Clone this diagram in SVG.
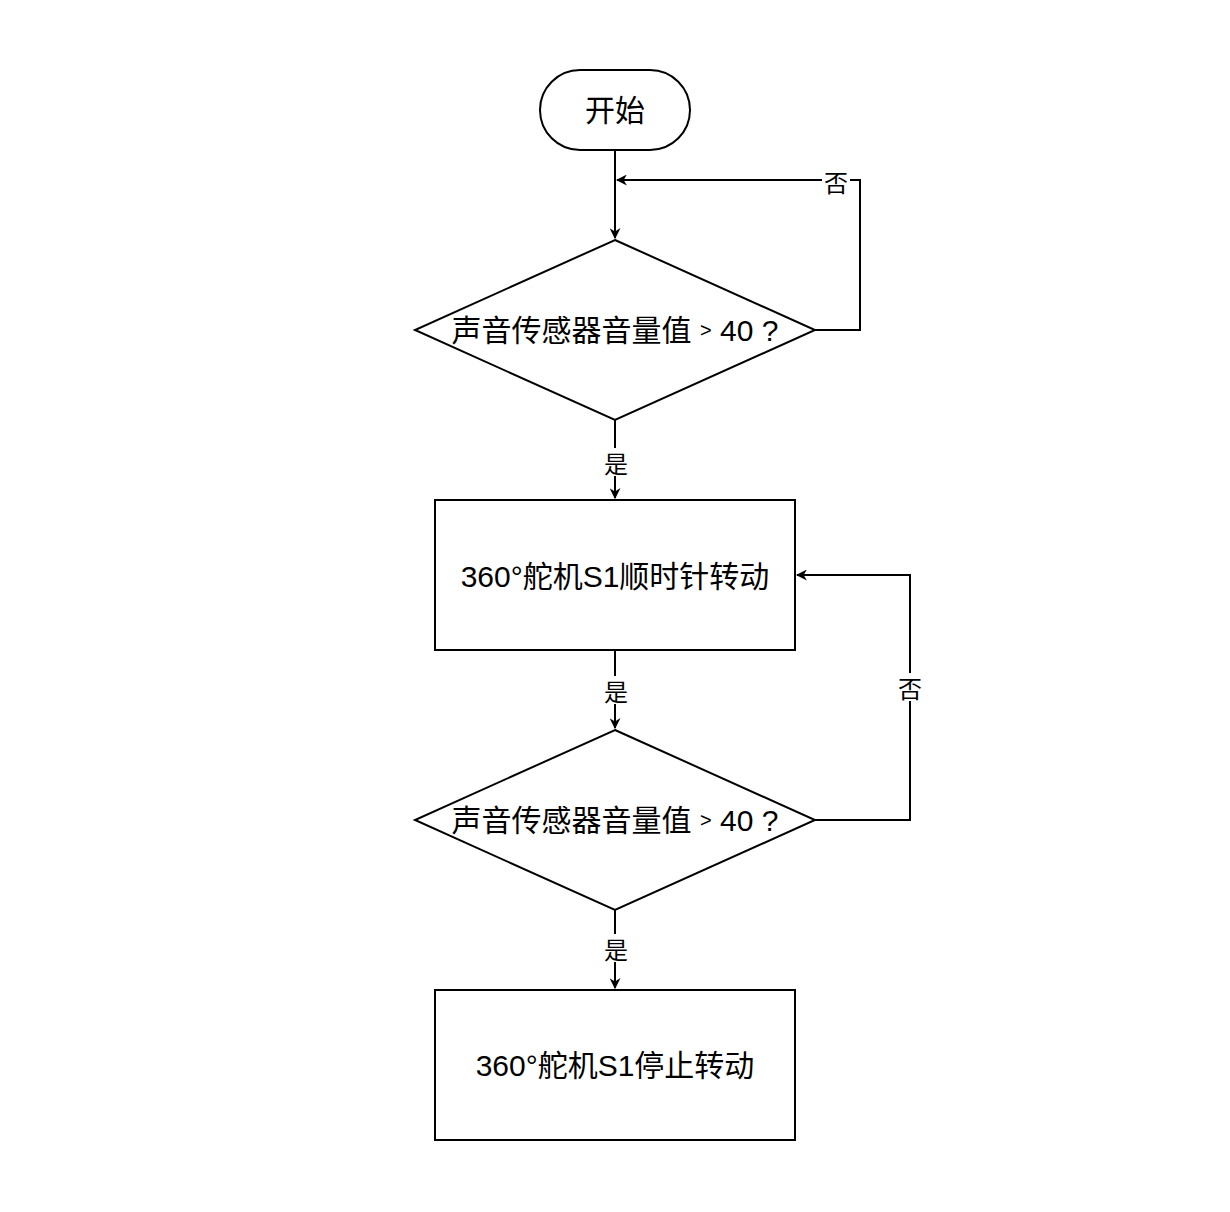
<svg xmlns="http://www.w3.org/2000/svg" width="1230" height="1212" viewBox="0 0 1230 1212">
<style>
.shape{fill:#fff;stroke:#000;stroke-width:2}
.txt{font-family:"Liberation Sans","Noto Sans CJK SC",sans-serif;font-size:30px;fill:#000;text-anchor:middle;dominant-baseline:central}
.lbl{font-family:"Noto Sans CJK SC",sans-serif;font-size:24px;fill:#000;text-anchor:middle;dominant-baseline:central}
.edge{fill:none;stroke:#000;stroke-width:2}
</style>
<defs>
<marker id="arr" viewBox="0 0 10 10" refX="9" refY="5" markerWidth="11" markerHeight="11" markerUnits="userSpaceOnUse" orient="auto">
<path d="M0,0 L10,5 L0,10 L3,5 z" fill="#000"/>
</marker>
</defs>
<rect width="1230" height="1212" fill="#fff"/>
<g id="connectors">
<path class="edge" d="M615,150 L615,238" marker-end="url(#arr)"/>
<path class="edge" d="M815,330 L860,330 L860,180 L617,180" marker-end="url(#arr)"/>
<path class="edge" d="M615,420 L615,498" marker-end="url(#arr)"/>
<path class="edge" d="M615,650 L615,728" marker-end="url(#arr)"/>
<path class="edge" d="M815,820 L910,820 L910,575 L797,575" marker-end="url(#arr)"/>
<path class="edge" d="M615,910 L615,988" marker-end="url(#arr)"/>
<rect x="822" y="167" width="28" height="28" fill="#fff"/>
<text class="lbl" x="836" y="181">否</text>
<rect x="602" y="448" width="28" height="28" fill="#fff"/>
<text class="lbl" x="616" y="462">是</text>
<rect x="602" y="676" width="28" height="28" fill="#fff"/>
<text class="lbl" x="616" y="690">是</text>
<rect x="896" y="673" width="28" height="28" fill="#fff"/>
<text class="lbl" x="910" y="687">否</text>
<rect x="602" y="934" width="28" height="28" fill="#fff"/>
<text class="lbl" x="616" y="948">是</text>
</g>
<g id="start">
<rect class="shape" x="540" y="70" width="150" height="80" rx="40" ry="40"/>
<text class="txt" x="615" y="110">开始</text>
</g>
<g id="decision1">
<polygon class="shape" points="615,240 815,330 615,420 415,330"/>
<text class="txt" x="615" y="330">声音传感器音量值 <tspan font-size="20">&gt;</tspan> 40 ?</text>
</g>
<g id="process1">
<rect class="shape" x="435" y="500" width="360" height="150"/>
<text class="txt" x="615" y="576">360°舵机S1顺时针转动</text>
</g>
<g id="decision2">
<polygon class="shape" points="615,730 815,820 615,910 415,820"/>
<text class="txt" x="615" y="820">声音传感器音量值 <tspan font-size="20">&gt;</tspan> 40 ?</text>
</g>
<g id="process2">
<rect class="shape" x="435" y="990" width="360" height="150"/>
<text class="txt" x="615" y="1065">360°舵机S1停止转动</text>
</g>
</svg>
